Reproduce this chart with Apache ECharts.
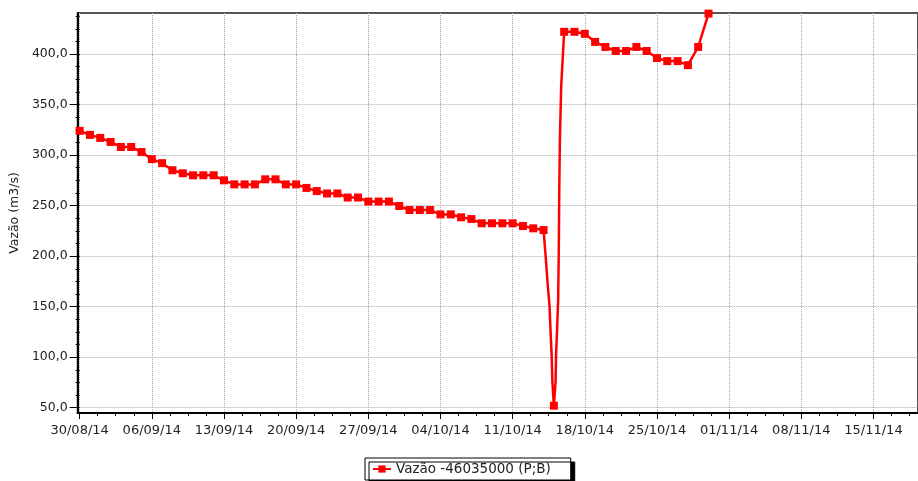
<!DOCTYPE html>
<html>
<head>
<meta charset="utf-8">
<script src="https://cdn.jsdelivr.net/npm/echarts@6/dist/echarts.min.js"></script>
<style>
html,body{margin:0;padding:0;background:#fff;}
#chart{width:918px;height:481px;}
</style>
</head>
<body>
<div id="chart"></div>
<script>
// ---- data ----
const dayDates = [
  '2014-08-30','2014-08-31',
  '2014-09-01','2014-09-02','2014-09-03','2014-09-04','2014-09-05','2014-09-06','2014-09-07','2014-09-08','2014-09-09','2014-09-10',
  '2014-09-11','2014-09-12','2014-09-13','2014-09-14','2014-09-15','2014-09-16','2014-09-17','2014-09-18','2014-09-19','2014-09-20',
  '2014-09-21','2014-09-22','2014-09-23','2014-09-24','2014-09-25','2014-09-26','2014-09-27','2014-09-28','2014-09-29','2014-09-30',
  '2014-10-01','2014-10-02','2014-10-03','2014-10-04','2014-10-05','2014-10-06','2014-10-07','2014-10-08','2014-10-09','2014-10-10',
  '2014-10-11','2014-10-12','2014-10-13','2014-10-14','2014-10-15','2014-10-16','2014-10-17','2014-10-18','2014-10-19','2014-10-20',
  '2014-10-21','2014-10-22','2014-10-23','2014-10-24','2014-10-25','2014-10-26','2014-10-27','2014-10-28','2014-10-29','2014-10-30'
];
const dayFlow = [
  324, 320, 317, 313, 308, 308, 303, 296, 292, 285,
  282, 280, 280, 280, 275, 271, 271, 271, 276, 276,
  271, 271, 267.5, 264.4, 262, 262, 258, 258, 254, 254,
  254, 249.6, 245.6, 245.6, 245.6, 241.3, 241.3, 238.4, 236.7, 232.5,
  232.5, 232.5, 232.5, 229.8, 227.5, 225.8, 52, 422, 422, 420,
  412, 407, 403, 403, 407, 403, 396, 393, 393, 389,
  407, 440
];
// intermediate (sub-daily) readings, drawn without markers
const subTimes = [
  '2014-10-14T05:00','2014-10-14T09:00','2014-10-14T14:00','2014-10-14T16:30','2014-10-14T19:00','2014-10-14T20:30',
  '2014-10-15T04:00','2014-10-15T05:00','2014-10-15T10:00','2014-10-15T11:30','2014-10-15T12:30','2014-10-15T14:00','2014-10-15T17:00'
];
const subFlow = [
  199, 175, 150, 123.5, 100.5, 76,
  76, 100.5, 156, 209, 263, 315, 368
];
const xTickLabels = ['30/08/14','06/09/14','13/09/14','20/09/14','27/09/14','04/10/14','11/10/14','18/10/14','25/10/14','01/11/14','08/11/14','15/11/14'];
const yTickValues = [50, 100, 150, 200, 250, 300, 350, 400];
const seriesName = 'Vazão -46035000 (P;B)';
const yAxisTitle = 'Vazão (m3/s)';

// ---- build ----
const startUTC = Date.UTC(2014, 7, 30);
const DAY = 86400000;
function offIso(s) { return (Date.parse(s.length === 10 ? s + 'T00:00:00Z' : s + ':00Z') - startUTC) / DAY; }
function offLabel(s) { const p = s.split('/'); return (Date.UTC(2000 + (+p[2]), +p[1] - 1, +p[0]) - startUTC) / DAY; }

const pts = [];
dayDates.forEach((d, i) => pts.push({ value: [offIso(d), dayFlow[i]] }));
subTimes.forEach((t, i) => pts.push({ value: [offIso(t), subFlow[i]], symbol: 'none' }));
pts.sort((a, b) => a.value[0] - b.value[0]);

const xTickVals = xTickLabels.map(offLabel);
const xMin = -0.19, xMax = 81.32;
const yMin = 44.76, yMax = 440.6;
const xMinor = []; for (let v = 0; v <= xMax; v += 1.75) xMinor.push(+v.toFixed(4));
const yMinor = []; for (let v = 50; v <= yMax; v += 12.5) yMinor.push(v);

const FONT = 'DejaVu Sans';
const TXT = '#222';

const chart = echarts.init(document.getElementById('chart'), null, { renderer: 'canvas' });
chart.setOption({
  animation: false,
  backgroundColor: '#fff',
  grid: { left: 76, right: -3, top: 13, bottom: 68, show: true, borderColor: '#555', borderWidth: 2, backgroundColor: 'transparent' },
  legend: {
    left: 365, top: 458,
    padding: [4, 20, 4, 7],
    itemWidth: 18, itemHeight: 9,
    backgroundColor: '#fff', borderColor: '#000', borderWidth: 1,
    shadowColor: '#000', shadowBlur: 0, shadowOffsetX: 4, shadowOffsetY: 4,
    textStyle: { fontFamily: FONT, fontSize: 13.5, color: TXT },
    data: [seriesName]
  },
  xAxis: [
    {
      type: 'value', min: xMin, max: xMax, position: 'bottom',
      axisLine: { show: true, onZero: false, lineStyle: { color: '#000', width: 2 } },
      axisTick: { show: true, length: 6, lineStyle: { color: '#000' }, customValues: xTickVals },
      axisLabel: {
        customValues: xTickVals, margin: 11,
        fontFamily: FONT, fontSize: 13, color: TXT,
        formatter: v => { const i = xTickVals.findIndex(t => Math.abs(t - v) < 1e-6); return i >= 0 ? xTickLabels[i] : ''; }
      },
      splitLine: { show: true, lineStyle: { color: '#a8a8a8', type: [1, 1], width: 1 } }
    },
    {
      type: 'value', min: xMin, max: xMax, position: 'bottom',
      axisLine: { show: false },
      axisTick: { show: true, length: 3, lineStyle: { color: '#000' }, customValues: xMinor },
      axisLabel: { show: false },
      splitLine: { show: false }
    }
  ],
  yAxis: [
    {
      type: 'value', min: yMin, max: yMax, position: 'left',
      name: yAxisTitle, nameLocation: 'middle', nameGap: 53,
      nameTextStyle: { fontFamily: FONT, fontSize: 12.5, color: TXT },
      axisLine: { show: true, onZero: false, lineStyle: { color: '#000', width: 2 } },
      axisTick: { show: true, length: 8, lineStyle: { color: '#000' }, customValues: yTickValues },
      axisLabel: {
        customValues: yTickValues, margin: 10,
        fontFamily: FONT, fontSize: 12.5, color: TXT,
        formatter: v => v.toFixed(1).replace('.', ',')
      },
      splitLine: { show: true, lineStyle: { color: '#a8a8a8', type: [1, 1], width: 1 } }
    },
    {
      type: 'value', min: yMin, max: yMax, position: 'left',
      axisLine: { show: false },
      axisTick: { show: true, length: 4, lineStyle: { color: '#000' }, customValues: yMinor },
      axisLabel: { show: false },
      splitLine: { show: false }
    }
  ],
  series: [{
    name: seriesName,
    type: 'line',
    xAxisIndex: 0, yAxisIndex: 0,
    data: pts,
    symbol: 'rect', symbolSize: 8, showSymbol: true, showAllSymbol: true,
    clip: true,
    lineStyle: { color: '#ff0000', width: 2.5 },
    itemStyle: { color: '#ff0000' },
    emphasis: { disabled: true }
  }]
});
</script>
</body>
</html>
